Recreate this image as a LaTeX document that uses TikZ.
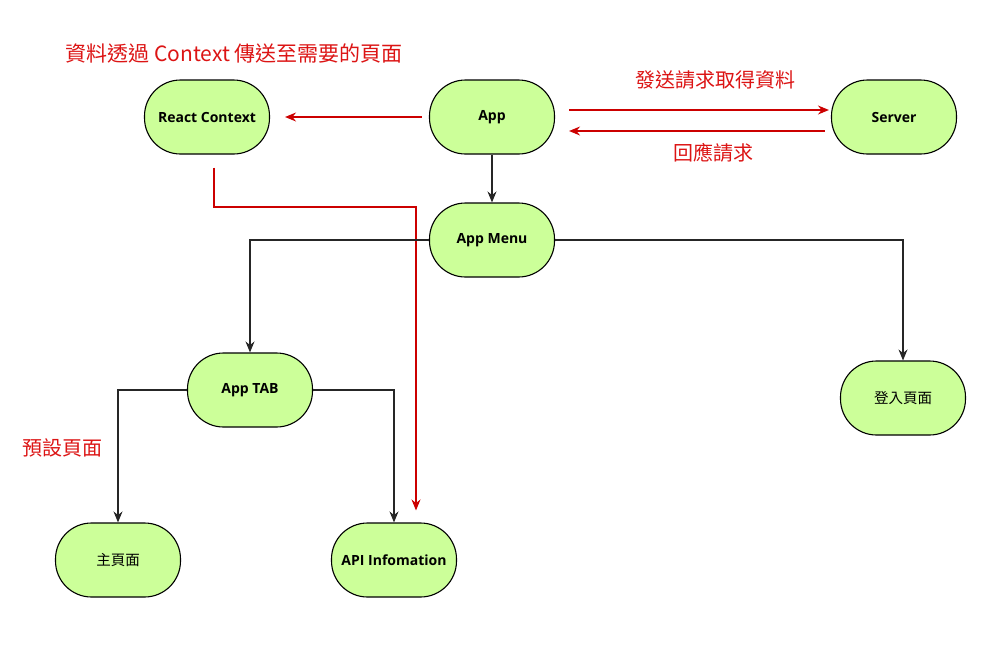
\documentclass[tikz,border=0pt]{standalone}
\usepackage{fontspec}
\setmainfont{Open Sans}
\newfontfamily\cjk{Noto Sans CJK TC}
\usetikzlibrary{arrows.meta}
\definecolor{pillgreen}{RGB}{204,255,153}
\definecolor{flowred}{RGB}{204,0,0}
\definecolor{labelred}{RGB}{220,20,20}

\begin{document}
\begin{tikzpicture}[%
    x=1pt, y=-1pt,                       % pixel-like coordinates, top-down
    >={Stealth[length=11pt, width=9pt]}, % draw.io-like arrow heads
    ]
% -------------------------------------------------
% Box and line styles
\tikzset{
  pill/.style={draw, line width=1.1pt, fill=pillgreen, rectangle, rounded corners=36pt,
    minimum width=125pt, minimum height=74pt, align=center,
    font={\fontsize{14}{16}\selectfont\bfseries}},
  cjkpill/.style={pill, font={\fontsize{14.5}{16}\selectfont\cjk}},
  norm/.style={->, draw, black!85, line width=1.1pt},
  data/.style={->, draw, flowred, line width=1.1pt},
  note/.style={labelred, font={\fontsize{20}{24}\selectfont\cjk}}
}
\useasboundingbox (0,0) rectangle (1007,662);
% -------------------------------------------------
% The boxes
\node [pill] (ctx) at (207,117) {React Context};
\node [pill] (app) at (492,117) {App};
\node [pill] (server) at (894,117) {Server};
\node [pill] (menu) at (492,240) {App Menu};
\node [pill] (tab) at (250,390) {App TAB};
\node [cjkpill] (login) at (903,398) {登入頁面};
\node [cjkpill] (home) at (118,560) {主頁面};
\node [pill] (api) at (394,560) {API Infomation};
% -------------------------------------------------
% Red notes
\node [note, font={\fontsize{21}{24}\selectfont\cjk}] (ctxnote) at (234,53)
  {資料透過 Context 傳送至需要的頁面};
\node [note] (reqnote) at (715,80) {發送請求取得資料};
\node [note] (respnote) at (713,153) {回應請求};
\node [note] (defnote) at (63,448) {預設頁面};
% -------------------------------------------------
% Data flow (red)
\draw [data, shorten <=7pt, shorten >=15pt] (app.west) -- (ctx.east);
\draw [data, shorten <=14pt, shorten >=2pt]
  ([yshift=7pt]app.east) -- ([yshift=7pt]server.west);
\draw [data, shorten <=6pt, shorten >=14pt]
  ([yshift=-14pt]server.west) -- ([yshift=-14pt]app.east);
\coordinate (ctxbend) at (214,207);
\draw [data, shorten <=13pt, shorten >=12pt]
  ([xshift=7pt]ctx.south) -- (ctxbend) -| ([xshift=22pt]api.north);
% -------------------------------------------------
% Menu structure (black)
\draw [norm] (app) -- (menu);
\draw [norm] (menu.west) -| (tab.north);
\draw [norm] (menu.east) -| (login.north);
\draw [norm] (tab.west) -| (home.north);
\draw [norm] (tab.east) -| (api.north);
\end{tikzpicture}
\end{document}
